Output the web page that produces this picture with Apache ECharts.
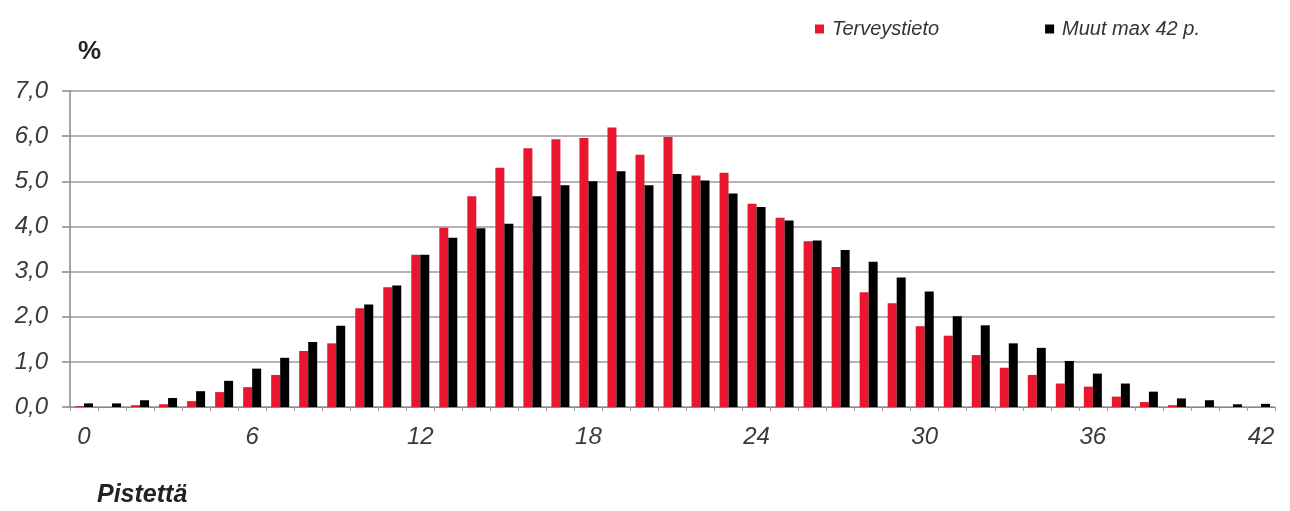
<!DOCTYPE html>
<html>
<head>
<meta charset="utf-8">
<script src="https://cdn.jsdelivr.net/npm/echarts@6/dist/echarts.min.js"></script>
<style>html,body{margin:0;padding:0;background:#fff;}#c{width:1290px;height:511px;}</style>
</head>
<body>
<div id="c"></div>
<script>
const categories = Array.from({length: 43}, (_, i) => String(i));
const terveystieto = [0.02,0,0.04,0.06,0.13,0.33,0.44,0.71,1.24,1.41,2.19,2.65,3.37,3.97,4.67,5.30,5.73,5.93,5.96,6.19,5.59,5.98,5.13,5.19,4.50,4.19,3.67,3.10,2.54,2.30,1.79,1.58,1.15,0.87,0.71,0.52,0.45,0.23,0.11,0.04,0,0,0];
const muut = [0.08,0.08,0.15,0.20,0.35,0.58,0.85,1.09,1.44,1.80,2.27,2.69,3.37,3.75,3.96,4.06,4.67,4.91,5.00,5.22,4.91,5.16,5.02,4.73,4.43,4.13,3.69,3.48,3.22,2.87,2.56,2.01,1.81,1.41,1.31,1.02,0.74,0.52,0.34,0.19,0.15,0.06,0.07];
const seriesNames = ['Terveystieto', 'Muut max 42 p.'];
const xLabelsShown = [0,6,12,18,24,30,36,42];

const chart = echarts.init(document.getElementById('c'));
const font = 'Liberation Sans, Arial, sans-serif';
chart.setOption({
  animation: false,
  backgroundColor: '#fff',
  textStyle: {fontFamily: font},
  legend: {
    left: 810, top: 14,
    itemWidth: 9, itemHeight: 9, itemGap: 106,
    icon: 'rect',
    textStyle: {fontFamily: font, fontStyle: 'italic', fontSize: 20, color: '#333', padding: [0,0,0,3]},
    data: seriesNames
  },
  graphic: [
    {type: 'text', left: 78, top: 39, style: {text: '%', font: 'bold 26px ' + font, fill: '#222'}},
    {type: 'text', left: 97, top: 483, style: {text: 'Pistettä', font: 'italic bold 25px ' + font, fill: '#222'}}
  ],
  grid: {left: 70, right: 15, top: 91, bottom: 104, containLabel: false},
  xAxis: {
    type: 'category',
    data: categories,
    boundaryGap: true,
    axisLine: {lineStyle: {color: '#888', width: 1}},
    axisTick: {show: true, length: 4, lineStyle: {color: '#999'}},
    axisLabel: {
      interval: 0, margin: 18,
      fontFamily: font, fontStyle: 'italic', fontSize: 24, color: '#3a3a3a',
      formatter: v => xLabelsShown.includes(Number(v)) ? v : ''
    }
  },
  yAxis: {
    type: 'value', min: 0, max: 7, interval: 1,
    axisLine: {show: true, lineStyle: {color: '#888', width: 1.5}},
    axisTick: {show: true, length: 8, lineStyle: {color: '#888', width: 1.5}},
    splitLine: {lineStyle: {color: '#9a9a9a', width: 1.5}},
    axisLabel: {
      margin: 22,
      fontFamily: font, fontStyle: 'italic', fontSize: 24, color: '#3a3a3a',
      formatter: v => v.toFixed(1).replace('.', ',')
    }
  },
  series: [
    {name: seriesNames[0], type: 'bar', data: terveystieto, barWidth: 9, barGap: '0%', itemStyle: {color: '#e8172f'}},
    {name: seriesNames[1], type: 'bar', data: muut, barWidth: 9, barGap: '0%', itemStyle: {color: '#000'}}
  ]
});
</script>
</body>
</html>
